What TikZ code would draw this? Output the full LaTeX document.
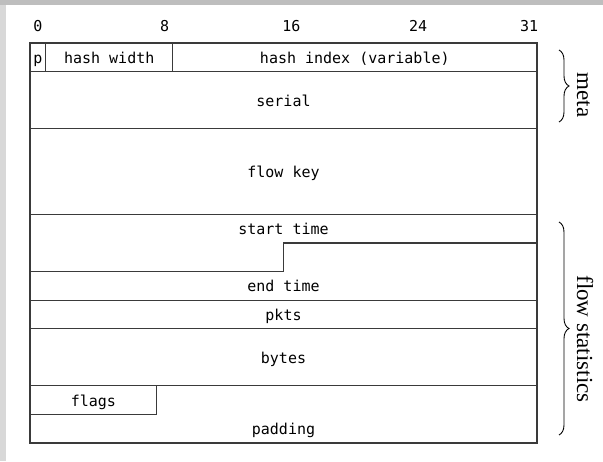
\documentclass[tikz,border=0pt]{standalone}
\usepackage{fontspec}
\setmonofont{DejaVu Sans Mono}
\newfontfamily\grouplabelfont{Liberation Serif}
\usetikzlibrary{decorations.pathreplacing}
\definecolor{linegray}{HTML}{3A3A3A}
\definecolor{framegray}{HTML}{BEBEBE}
\definecolor{sidegray}{HTML}{D8D8D8}
\begin{document}
\begin{tikzpicture}[x=1pt,y=-1pt,
  field/.style={draw=linegray, line width=1.1pt},
  fieldtext/.style={font=\ttfamily\fontsize{15}{18}\selectfont, anchor=base, inner sep=0pt},
  groupbrace/.style={draw=black, line width=0.9pt, decorate, decoration={brace, amplitude=10pt}},
  grouplabel/.style={font=\grouplabelfont\fontsize{23}{28}\selectfont, rotate=-90, anchor=base, inner sep=0pt}]
  % canvas and frame strips
  \useasboundingbox (0,0) rectangle (603,461);
  \fill[white] (0,0) rectangle (603,461);
  \fill[sidegray] (0,0) rectangle (6,461);
  \fill[framegray] (0,0) rectangle (603,4.5);

  % bit numbers (bit width 15.84, left edge 30)
  \node[fieldtext] (b0)  at (37.92,31.7)  {0};
  \node[fieldtext] (b8)  at (164.67,31.7) {8};
  \node[fieldtext] (b16) at (291.42,31.7) {16};
  \node[fieldtext] (b24) at (418.17,31.7) {24};
  \node[fieldtext] (b31) at (529.08,31.7) {31};

  % record outline and row separators (row height 28.57)
  \draw[field] (30,43) rectangle (537,443);
  \draw[field] (30,71.57)  -- (537,71.57);
  \draw[field] (30,128.71) -- (537,128.71);
  \draw[field] (30,214.43) -- (537,214.43);
  \draw[field] (30,300.14) -- (537,300.14);
  \draw[field] (30,328.71) -- (537,328.71);
  \draw[field] (30,385.86) -- (537,385.86);
  % first word: p | hash width | hash index
  \draw[field] (45.84,43)  -- (45.84,71.57);
  \draw[field] (172.59,43) -- (172.59,71.57);
  % 48-bit start time / end time boundary
  \draw[field] (30,271.57) -- (283.5,271.57) -- (283.5,243) -- (537,243);
  % flags byte
  \draw[field] (30,414.43) -- (156.75,414.43) -- (156.75,385.86);

  % field labels
  \node[fieldtext] (p)     at (37.92,63.3)  {p};
  \node[fieldtext] (hw)    at (109.2,63.3)  {hash width};
  \node[fieldtext] (hi)    at (354.8,63.3)  {hash index (variable)};
  \node[fieldtext] (ser)   at (283.5,106.1) {serial};
  \node[fieldtext] (fk)    at (283.5,177.6) {flow key};
  \node[fieldtext] (st)    at (283.5,234.7) {start time};
  \node[fieldtext] (et)    at (283.5,291.9) {end time};
  \node[fieldtext] (pk)    at (283.5,320.4) {pkts};
  \node[fieldtext] (by)    at (283.5,363.3) {bytes};
  \node[fieldtext] (fl)    at (93.4,406.1)  {flags};
  \node[fieldtext] (pad)   at (283.5,434.7) {padding};

  % groups
  \coordinate (metaTop) at (559,50);
  \coordinate (metaBot) at (559,122);
  \coordinate (statTop) at (559,222);
  \coordinate (statBot) at (559,435);
  \draw[groupbrace] (metaTop) -- (metaBot);
  \draw[groupbrace] (statTop) -- (statBot);
  \node[grouplabel] (meta) at (577,95)  {meta};
  \node[grouplabel] (stat) at (577,339) {flow statistics};
\end{tikzpicture}
\end{document}
